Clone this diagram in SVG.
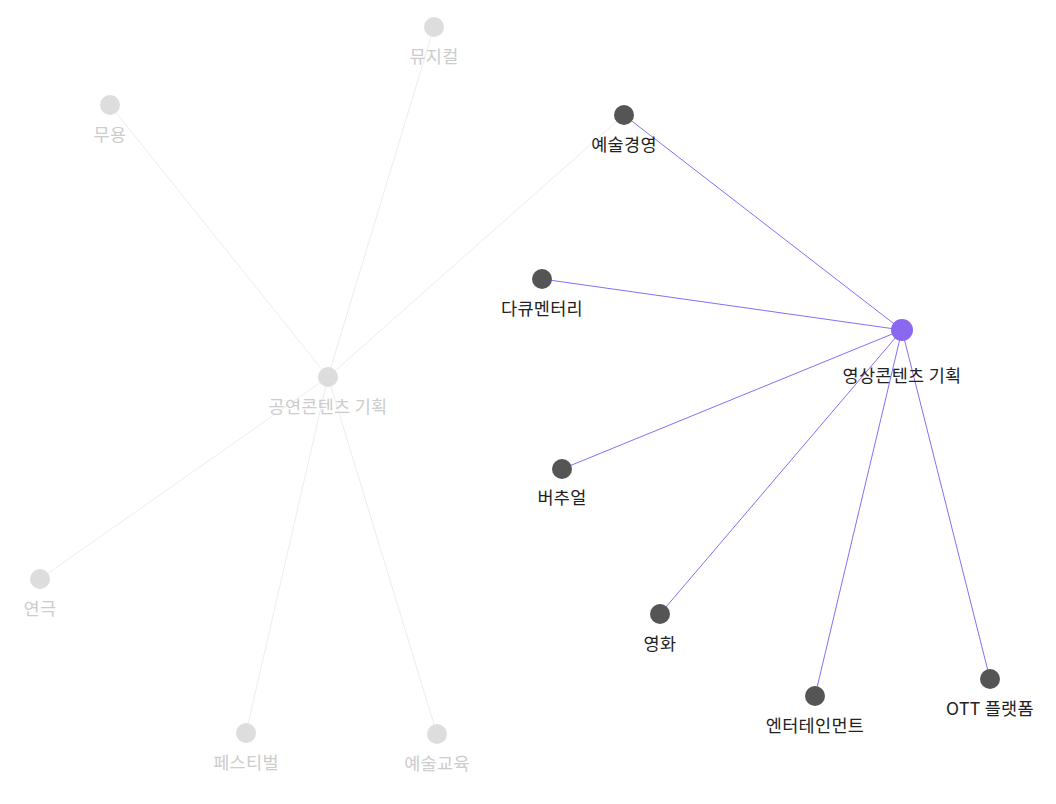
<svg xmlns="http://www.w3.org/2000/svg" width="1056" height="804" viewBox="0 0 1056 804">
<style>
.bg{fill:#ffffff}
.e-dim{stroke:#ececec;stroke-width:1;fill:none}
.e-act{stroke:#8b6cf2;stroke-width:1;fill:none}
.n-dim{fill:#dddddd}
.n-act{fill:#555555}
.n-hub{fill:#8b68f0}
text{font-family:"Noto Sans CJK KR","Noto Sans",sans-serif;font-size:17.5px;letter-spacing:0.3px;text-anchor:middle;dominant-baseline:central}
.t-dim{fill:#cccccc}
.t-act{fill:#222222}
</style>
<rect class="bg" width="1056" height="804"/>
<g id="connectors">
<line class="e-dim" x1="328" y1="377" x2="434" y2="27"/>
<line class="e-dim" x1="328" y1="377" x2="110" y2="105"/>
<line class="e-dim" x1="328" y1="377" x2="624" y2="115"/>
<line class="e-dim" x1="328" y1="377" x2="40" y2="579"/>
<line class="e-dim" x1="328" y1="377" x2="246" y2="733"/>
<line class="e-dim" x1="328" y1="377" x2="437" y2="734"/>
<line class="e-act" x1="902" y1="330" x2="624" y2="115"/>
<line class="e-act" x1="902" y1="330" x2="542" y2="279"/>
<line class="e-act" x1="902" y1="330" x2="562" y2="469"/>
<line class="e-act" x1="902" y1="330" x2="660" y2="614"/>
<line class="e-act" x1="902" y1="330" x2="815" y2="696"/>
<line class="e-act" x1="902" y1="330" x2="990" y2="679"/>
</g>
<g id="node-gongyeon"><circle class="n-dim" cx="328" cy="377" r="10"/><text class="t-dim" x="328" y="405">공연콘텐츠 기획</text></g>
<g id="node-musical"><circle class="n-dim" cx="434" cy="27" r="10"/><text class="t-dim" x="434" y="55">뮤지컬</text></g>
<g id="node-dance"><circle class="n-dim" cx="110" cy="105" r="10"/><text class="t-dim" x="110" y="133">무용</text></g>
<g id="node-theater"><circle class="n-dim" cx="40" cy="579" r="10"/><text class="t-dim" x="40" y="607">연극</text></g>
<g id="node-festival"><circle class="n-dim" cx="246" cy="733" r="10"/><text class="t-dim" x="246" y="761">페스티벌</text></g>
<g id="node-artedu"><circle class="n-dim" cx="437" cy="734" r="10"/><text class="t-dim" x="437" y="762">예술교육</text></g>
<g id="node-youngsang"><circle class="n-hub" cx="902" cy="330" r="11"/><text class="t-act" x="902" y="374">영상콘텐츠 기획</text></g>
<g id="node-artmgmt"><circle class="n-act" cx="624" cy="115" r="10"/><text class="t-act" x="624" y="143">예술경영</text></g>
<g id="node-docu"><circle class="n-act" cx="542" cy="279" r="10"/><text class="t-act" x="542" y="307">다큐멘터리</text></g>
<g id="node-virtual"><circle class="n-act" cx="562" cy="469" r="10"/><text class="t-act" x="562" y="496">버추얼</text></g>
<g id="node-film"><circle class="n-act" cx="660" cy="614" r="10"/><text class="t-act" x="660" y="642">영화</text></g>
<g id="node-ent"><circle class="n-act" cx="815" cy="696" r="10"/><text class="t-act" x="815" y="724">엔터테인먼트</text></g>
<g id="node-ott"><circle class="n-act" cx="990" cy="679" r="10"/><text class="t-act" x="990" y="707">OTT 플랫폼</text></g>
</svg>
